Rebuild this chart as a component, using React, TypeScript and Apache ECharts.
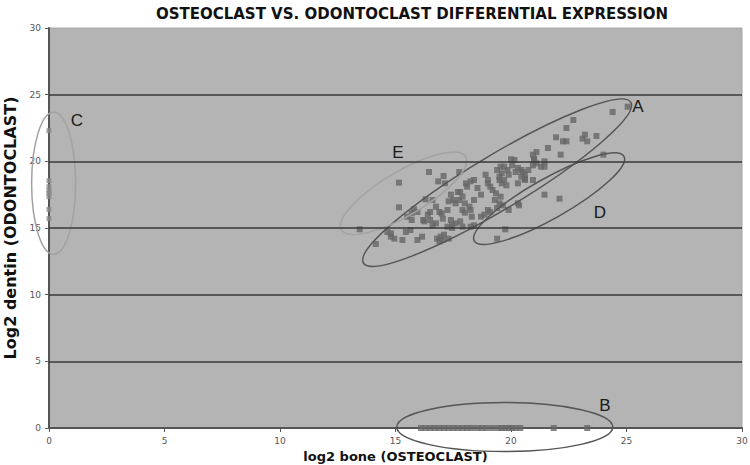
import React, { useEffect, useRef } from "react";
import * as echarts from "echarts";

const titleText = "OSTEOCLAST VS. ODONTOCLAST DIFFERENTIAL EXPRESSION";
const xAxisTitle = "log2 bone (OSTEOCLAST)";
const yAxisTitle = "Log2 dentin (ODONTOCLAST)";
const gridValues = [5, 10, 15, 20, 25];

// points expressed in both tissues (groups A, D, E)
const mainPoints: number[][] = [
  [13.45, 14.9], [15.15, 18.4], [15.15, 16.55], [16.45, 19.2], [17.08, 18.9], [16.85, 18.5], [17.14, 18.35], [17.76, 19.2],
  [14.15, 13.8], [14.65, 14.7], [14.8, 14.35], [14.95, 14.2], [14.8, 14.6], [15.3, 14.1], [15.45, 14.7], [15.65, 14.85],
  [15.95, 14.1], [16.15, 14.35], [16.8, 14.2], [16.95, 14.35], [17.1, 14.5], [17.3, 14.2], [16.9, 14.0], [17.05, 14.1],
  [17.25, 15.1], [17.45, 15.0], [17.9, 15.1],
  [15.8, 16.4], [15.7, 16.1], [15.95, 16.2], [15.5, 15.85], [15.7, 15.6],
  [16.3, 17.15], [16.6, 17.1], [16.75, 16.6], [16.9, 16.2], [16.5, 16.2], [16.4, 16.0],
  [16.2, 15.6], [16.25, 15.5], [16.5, 15.6], [16.6, 15.2], [16.75, 15.35],
  [17.0, 16.1], [17.25, 16.35], [17.05, 15.7],
  [17.4, 17.5], [17.5, 17.1], [17.6, 16.85], [17.3, 17.0], [17.75, 17.1], [17.9, 17.35], [17.8, 17.7], [17.7, 17.7],
  [18.05, 18.35], [18.1, 18.1], [18.25, 18.5], [18.4, 18.6],
  [18.0, 16.85], [18.2, 16.6], [17.9, 16.35], [18.0, 16.15], [18.25, 16.35],
  [18.55, 18.0], [18.7, 17.5], [18.4, 17.1],
  [17.4, 15.6], [17.45, 15.2], [17.6, 15.35], [17.8, 15.5],
  [18.3, 15.85], [18.4, 15.2], [18.25, 15.1],
  [18.7, 15.85], [18.85, 16.0], [19.0, 16.35], [19.1, 16.2],
  [18.9, 19.0], [19.0, 18.6], [19.0, 18.35], [19.1, 18.1], [19.2, 17.85], [19.35, 17.6], [19.5, 18.6], [19.6, 18.35], [19.8, 18.2],
  [19.4, 19.35], [19.55, 19.6], [19.6, 19.1], [19.85, 19.35], [19.9, 19.0], [20.05, 19.7], [20.15, 20.1], [20.3, 19.5],
  [20.45, 19.35], [20.6, 19.0], [20.75, 19.35], [20.95, 19.7], [21.0, 20.1], [21.1, 20.7], [20.95, 20.5],
  [20.3, 18.35], [20.6, 18.6], [20.95, 18.6],
  [19.55, 17.35], [19.3, 17.1], [19.5, 16.85], [19.65, 16.7], [19.9, 16.35], [20.3, 16.85], [20.35, 16.7], [19.4, 16.5],
  [25.05, 24.1], [24.4, 23.7], [22.7, 23.1], [22.4, 22.5], [23.2, 22.0], [23.1, 21.7], [23.3, 21.5], [23.7, 21.9],
  [21.95, 21.8], [22.25, 21.5], [22.4, 21.5], [21.6, 21.0], [22.15, 20.5],
  [21.0, 20.2], [21.1, 19.85], [21.45, 20.0], [21.45, 19.6], [21.3, 19.6],
  [20.0, 20.15], [19.7, 19.6], [20.5, 19.2], [20.2, 19.2], [20.45, 18.85], [20.6, 18.7],
  [19.5, 18.85], [19.7, 18.6],
  [24.0, 20.5], [21.45, 17.5], [22.1, 17.2], [19.75, 14.9], [19.4, 14.2],
];

// group B: expressed in bone only (dentin = 0)
const boneOnlyX = [
  16.1, 16.3, 16.5, 16.7, 16.9, 17.1, 17.3, 17.5, 17.7, 17.9, 18.1, 18.3,
  18.55, 18.75, 18.95, 19.2, 19.45, 19.6, 19.75, 19.9, 20.05, 20.2, 20.4, 21.85, 23.3,
];
// group C: expressed in dentin only (bone = 0)
const dentinOnlyY = [22.3, 18.55, 18.1, 17.8, 17.6, 17.35, 16.4, 15.7];

// annotation ellipses: [centerX, centerY (data), semi-axis x px, semi-axis y px, rotation deg]
const darkEllipses: number[][] = [
  [19.4, 18.4, 156, 27, 31],
  [21.65, 17.2, 86, 20, 29.5],
  [19.73, 0.07, 108, 24.5, 0],
];
const lightEllipses: number[][] = [
  [15.35, 17.6, 72, 22, 30.5],
  [0.2, 18.35, 22, 71, 0],
];
const groupLabels = [
  { name: "A", x: 638, y: 106 },
  { name: "B", x: 605, y: 405 },
  { name: "C", x: 77, y: 120 },
  { name: "D", x: 600, y: 212 },
  { name: "E", x: 398, y: 152 },
];

const ellipseRender = (color: string) => (params: any, api: any) => {
  const c = api.coord([api.value(0), api.value(1)]);
  return {
    type: "ellipse",
    x: c[0],
    y: c[1],
    rotation: (api.value(4) * Math.PI) / 180,
    shape: { cx: 0, cy: 0, rx: api.value(2), ry: api.value(3) },
    style: { fill: "none", stroke: color, lineWidth: 1.5 },
  };
};

export default function App() {
  const ref = useRef<HTMLDivElement>(null);
  useEffect(() => {
    if (!ref.current) return;
    const chart = echarts.init(ref.current, undefined, { renderer: "svg" });
    const markerColor = "#666666";
    chart.setOption({
      animation: false,
      backgroundColor: "#ffffff",
      grid: {
        left: 49, right: 8, top: 28, bottom: 37,
        outerBoundsMode: "none", containLabel: false,
        show: true, backgroundColor: "#b4b4b4", borderColor: "#a6a6a6", borderWidth: 1,
      },
      xAxis: {
        type: "value", min: 0, max: 30, interval: 5,
        name: xAxisTitle, nameLocation: "middle", nameGap: 20,
        nameTextStyle: { fontFamily: "DejaVu Sans", fontWeight: "bold", fontSize: 13, color: "#111" },
        axisLine: { show: true, onZero: false, lineStyle: { color: "#555", width: 2 } },
        axisTick: { show: true, length: 4, lineStyle: { color: "#555" } },
        axisLabel: { fontFamily: "DejaVu Sans", fontSize: 9, color: "#555", margin: 8 },
        splitLine: { show: false },
      },
      yAxis: {
        type: "value", min: 0, max: 30, interval: 5,
        name: yAxisTitle, nameLocation: "middle", nameGap: 26,
        nameTextStyle: { fontFamily: "DejaVu Sans", fontWeight: "bold", fontSize: 16, color: "#111" },
        axisLine: { show: true, onZero: false, lineStyle: { color: "#555", width: 2 } },
        axisTick: { show: true, length: 4, lineStyle: { color: "#555" } },
        axisLabel: { fontFamily: "DejaVu Sans", fontSize: 9, color: "#555", margin: 8 },
        splitLine: { show: false },
      },
      series: [
        {
          type: "line", data: [], z: 1, silent: true,
          markLine: {
            silent: true, symbol: ["none", "none"], label: { show: false },
            lineStyle: { type: "solid", color: "#383838", width: 1.5 },
            data: gridValues.map((v) => ({ yAxis: v })),
          },
        },
        {
          type: "scatter", symbol: "rect", symbolSize: 6, z: 3,
          itemStyle: { color: markerColor },
          data: mainPoints,
        },
        {
          type: "scatter", symbol: "rect", symbolSize: 6, z: 3, clip: false,
          itemStyle: { color: markerColor },
          data: boneOnlyX.map((x) => [x, 0]),
        },
        {
          type: "scatter", symbol: "rect", symbolSize: 5, z: 3, clip: false,
          itemStyle: { color: "#8a8a8a" },
          data: dentinOnlyY.map((y) => [0, y]),
        },
        {
          type: "custom", z: 4, clip: false, silent: true,
          renderItem: ellipseRender("#555555"),
          data: darkEllipses,
        },
        {
          type: "custom", z: 4, clip: false, silent: true,
          renderItem: ellipseRender("#a2a2a2"),
          data: lightEllipses,
        },
      ],
      graphic: [
        {
          type: "text", x: 412, y: 14,
          style: {
            text: titleText, textAlign: "center", textVerticalAlign: "middle",
            fontFamily: "DejaVu Sans", fontWeight: "bold", fontSize: 15, fill: "#111",
          },
        },
        ...groupLabels.map((g) => ({
          type: "text", x: g.x, y: g.y, z: 10,
          style: {
            text: g.name, textAlign: "center", textVerticalAlign: "middle",
            fontFamily: "Liberation Sans", fontSize: 17, fill: "#1a1a1a",
          },
        })),
      ],
    });
    return () => chart.dispose();
  }, []);
  return (
    <div
      ref={ref}
      style={{ position: "fixed", left: 0, top: 0, width: 750, height: 465 }}
    />
  );
}
